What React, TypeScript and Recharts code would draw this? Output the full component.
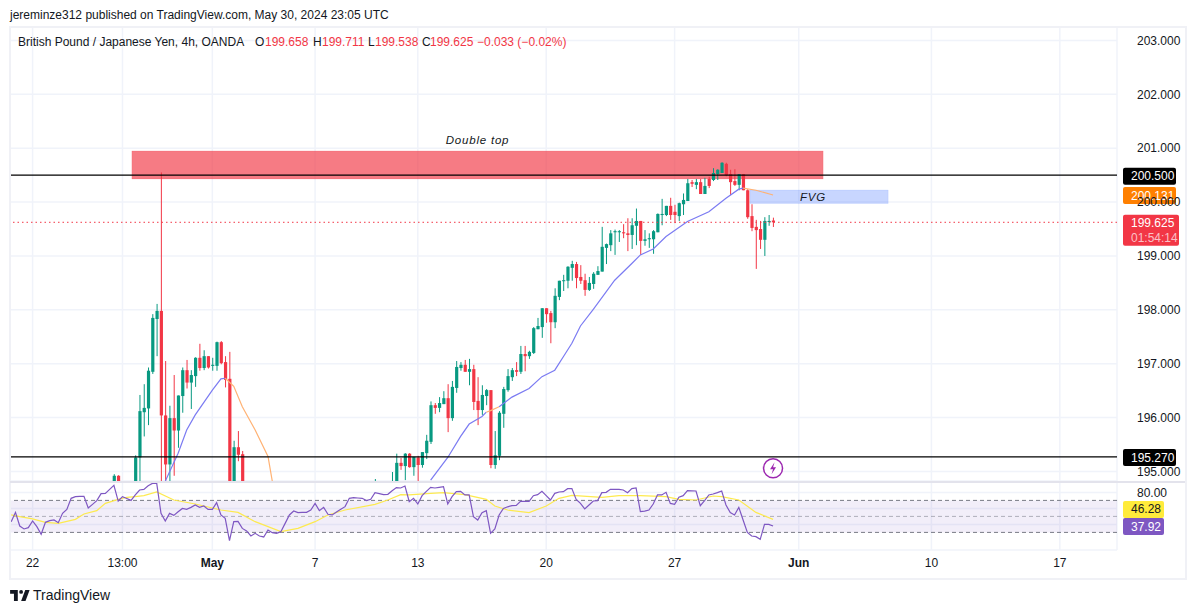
import React from "react";
import {
  ComposedChart, Bar, Line, XAxis, YAxis, CartesianGrid, ReferenceLine, ReferenceArea, ReferenceDot,
} from "recharts";

const FONT = "'Liberation Sans', Arial, sans-serif";
const GREEN = "#089981";
const RED = "#f23645";
const GRID = "#f0f3fa";

const timeTicks = [5, 26, 47, 71, 95, 125, 155, 184, 215, 245];
const timeLabels = ["22", "13:00", "May", "7", "13", "20", "27", "Jun", "10", "17"];
const boldLabels = ["May", "Jun"];
const priceTicks = [195, 196, 197, 198, 199, 200, 201, 202, 203];
const rsiTicks = [40, 60, 80];

const candleIndex = [
  24, 25,
  29, 30, 31, 32, 33, 34, 35, 36, 37, 38, 39, 40, 41, 42, 43, 44, 45, 46, 47, 48, 49, 50, 51, 52, 53, 54,
  85,
  89, 90, 91, 92, 93, 94, 95, 96, 97, 98, 99, 100,
  101, 102, 103, 104, 105, 106, 107, 108, 109, 110,
  111, 112, 113, 114, 115, 116, 117, 118, 119, 120,
  121, 122, 123, 124, 125, 126, 127, 128, 129, 130,
  131, 132, 133, 134, 135, 136, 137, 138, 139, 140,
  141, 142, 143, 144, 145, 146, 147, 148, 149, 150,
  151, 152, 153, 154, 155, 156, 157, 158, 159, 160,
  161, 162, 163, 164, 165, 166, 167, 168, 169, 170,
  171, 172, 173, 174, 175, 176, 177, 178,
];
const opens = [
  194.6, 194.92,
  194.4, 195.26, 196.1, 196.17, 196.85, 197.83, 197.98, 196.04, 195.13, 195.99, 195.76, 196.4, 196.88, 196.65, 196.77, 197.11, 196.92, 197.14, 196.96, 196.96, 197.4, 197.03, 196.72, 194.6, 195.45, 195.32,
  194.7,
  194.7, 194.6, 195.16, 195.1, 195.33, 195.08, 195.26, 195.12, 195.34, 195.55, 196.23, 196.18,
  196.25, 196.36, 195.99, 196.55, 196.92, 196.98, 196.85, 196.9, 196.31, 196.14,
  196.4, 196.51, 195.12, 195.29, 196.07, 196.51, 196.75, 196.88, 196.85, 197.18,
  197.14, 197.2, 197.64, 197.68, 198.03, 197.94, 197.77, 198.24, 198.54, 198.54,
  198.78, 198.85, 198.61, 198.55, 198.37, 198.48, 198.65, 198.71, 199.15, 199.2,
  199.44, 199.44, 199.44, 199.42, 199.39, 199.56, 199.65, 199.28, 199.31, 199.31,
  199.44, 199.76, 199.76, 199.93, 199.82, 199.74, 199.96, 200.02, 200.37, 200.32,
  200.37, 200.15, 200.43, 200.41, 200.52, 200.54, 200.71, 200.52, 200.39, 200.32,
  200.52, 200.22, 199.74, 199.54, 199.5, 199.3, 199.63, 199.658,
];
const highs = [
  194.95, 194.93,
  195.3, 196.42, 196.62, 196.93, 197.92, 198.11, 200.55, 197.05, 196.22, 196.79, 196.41, 196.93, 197.07, 196.88, 197.12, 197.37, 197.25, 197.14, 197.11, 197.41, 197.42, 197.14, 197.22, 195.57, 195.75, 195.38,
  194.86,
  194.99, 195.33, 195.25, 195.34, 195.34, 195.27, 195.29, 195.36, 195.68, 196.3, 196.27, 196.38,
  196.49, 196.62, 196.68, 197.05, 197.03, 197.07, 197.09, 196.98, 196.75, 196.6,
  196.53, 196.51, 195.75, 196.12, 196.57, 196.9, 196.92, 197.03, 197.33, 197.33,
  197.24, 197.68, 197.85, 198.03, 198.03, 197.98, 198.4, 198.54, 198.65, 198.81,
  198.91, 198.89, 198.83, 198.67, 198.61, 198.7, 198.81, 199.54, 199.23, 199.48,
  199.49, 199.48, 199.59, 199.7, 199.7, 199.88, 199.65, 199.48, 199.42, 199.48,
  199.79, 200.06, 199.93, 200.08, 199.95, 199.99, 200.16, 200.43, 200.41, 200.43,
  200.43, 200.45, 200.47, 200.63, 200.61, 200.74, 200.73, 200.6, 200.61, 200.52,
  200.52, 200.24, 199.96, 199.67, 199.65, 199.72, 199.76, 199.711,
];
const lows = [
  194.5, 194.5,
  194.3, 194.7, 195.65, 195.86, 196.81, 197.14, 194.7, 194.6, 194.7, 194.92, 195.44, 196.09, 196.54, 196.16, 196.57, 196.87, 196.88, 196.91, 196.87, 196.87, 196.99, 196.56, 194.5, 194.5, 195.19, 194.5,
  194.6,
  194.6, 194.5, 195.03, 194.84, 195.07, 194.92, 194.8, 195.07, 195.23, 195.51, 196.07, 196.1,
  196.25, 195.73, 195.94, 196.46, 196.87, 196.85, 196.6, 196.14, 195.86, 196.05,
  196.23, 195.06, 195.05, 195.21, 195.81, 196.48, 196.68, 196.77, 196.81, 196.86,
  197.09, 197.18, 197.64, 197.48, 197.76, 197.38, 197.66, 198.18, 198.35, 198.4,
  198.54, 198.4, 198.48, 198.26, 198.35, 198.39, 198.65, 198.71, 198.85, 199.09,
  199.02, 199.26, 199.33, 199.09, 199.13, 199.2, 199.02, 199.19, 199.15, 199.04,
  199.44, 199.57, 199.74, 199.67, 199.61, 199.65, 199.76, 200.02, 200.28, 200.24,
  200.15, 200.15, 200.26, 200.39, 200.41, 200.54, 200.48, 200.13, 200.3, 200.22,
  200.22, 199.69, 199.46, 198.76, 199.13, 199.0, 199.56, 199.538,
];
const closes = [
  194.92, 194.6,
  195.26, 196.12, 196.18, 196.87, 197.85, 197.98, 196.04, 195.13, 195.99, 195.76, 196.41, 196.88, 196.65, 196.79, 197.11, 196.92, 197.14, 196.93, 196.98, 197.4, 197.01, 196.7, 194.7, 195.45, 195.31, 194.6,
  194.8,
  194.8, 195.16, 195.1, 195.33, 195.08, 195.27, 195.12, 195.36, 195.57, 196.23, 196.18, 196.27,
  196.36, 195.99, 196.57, 196.94, 196.98, 196.85, 196.9, 196.29, 196.14, 196.42,
  196.51, 195.12, 195.3, 196.09, 196.53, 196.77, 196.88, 196.85, 197.18, 197.14,
  197.22, 197.66, 197.7, 198.03, 197.92, 197.77, 198.26, 198.54, 198.55, 198.8,
  198.85, 198.59, 198.54, 198.37, 198.5, 198.67, 198.72, 199.17, 199.22, 199.42,
  199.46, 199.46, 199.42, 199.39, 199.57, 199.65, 199.28, 199.31, 199.33, 199.46,
  199.78, 199.78, 199.93, 199.76, 199.76, 199.98, 200.04, 200.35, 200.34, 200.37,
  200.15, 200.3, 200.3, 200.54, 200.6, 200.73, 200.5, 200.37, 200.32, 200.52,
  200.22, 199.72, 199.52, 199.48, 199.3, 199.65, 199.65, 199.625,
];

const maRiseFirst = [[36, 194.82], [39, 195.34], [41, 195.77], [43, 196.05], [47, 196.51], [49, 196.72], [50, 196.73]];
const maFallFirst = [[50, 196.73], [52, 196.58], [54, 196.2], [57, 195.77], [60, 195.28], [61, 194.82]];
const maRiseSecond = [[98, 194.84], [102, 195.26], [105, 195.65], [107, 195.88], [110, 196.02], [111, 196.1]];
const maFallSecond = [[111, 196.1], [112, 196.13], [114, 196.2]];
const maRiseThird = [
  [114, 196.2], [117, 196.38], [121, 196.54], [124, 196.76], [127, 196.88], [129, 197.13], [131, 197.38],
  [133, 197.7], [136, 198.01], [141, 198.55], [145, 198.86], [147, 199.02], [150, 199.13], [153, 199.36],
  [158, 199.64], [163, 199.82], [167, 200.07], [170, 200.24], [171, 200.26],
];
const maFallThird = [[171, 200.26], [174, 200.22], [178, 200.131]];

const rsiValues = [
  43.4, 55.1, 38, 34.3, 35.9, 44.3, 37.2, 27.6, 42.6, 44.7,
  45.5, 42.2, 53.8, 58.8, 72.6, 74.7, 75, 75, 60.5, 65,
  69.7, 78.4, 78.8, 83.8, 88.8, 69.2, 74.7, 72.4, 70, 76.8,
  83, 83.8, 88.4, 91.3, 91.3, 53.8, 44.3, 53.8, 51.3, 55.9,
  60, 58.8, 61.3, 64.3, 61.3, 63, 58.8, 58.8, 67.2, 51.8,
  47.6, 19.7, 43.4, 43.8, 35, 31.8, 25.5, 28.8, 25.5, 24.3,
  33, 29.7, 28.8, 30.9, 41.3, 51.8, 56.8, 54.7, 55.1, 55.1,
  58, 66.3, 57.2, 61.3, 52.6, 51.8, 55.5, 58.9, 62.2, 72.6,
  73.4, 73, 72.6, 69.7, 71.3, 79.7, 78.5, 77.2, 77.6, 82,
  86, 85.5, 88, 68.4, 72.6, 65.5, 75.9, 81.3, 86.3, 85.5,
  86.3, 87.2, 65.5, 74.7, 80.9, 81.3, 76.8, 76.8, 49.7, 45.5,
  54.7, 57.2, 28.8, 34.3, 51.8, 60, 62, 63.4, 63.8, 68.8,
  68.8, 68.8, 75.9, 77.2, 81.3, 75.9, 70.5, 78.8, 80.5, 80.9,
  84.7, 84.7, 71.3, 66.3, 59.3, 64.3, 69.3, 69.7, 79.7, 80.1,
  83.8, 83.8, 83.8, 83, 79.7, 84.7, 85.5, 55.9, 56.5, 58,
  65.5, 76.8, 76.8, 80.1, 66.3, 65.1, 73.9, 75.9, 82.2, 82,
  81.8, 63.4, 69.7, 76.8, 78, 79.7, 81.8, 64.3, 54.7, 51.8,
  61.3, 45.5, 30, 25.5, 24.7, 21.3, 40, 40, 37.92,
];
const rsiAverage = [
  [0, 51.8], [2, 49.7], [5, 46.8], [8, 42.6], [11, 41.3], [15, 46.3], [17, 53], [20, 57.2], [22, 66.3],
  [25, 71.3], [27, 73.9], [29, 74.7], [31, 75.9], [34, 80.5], [38, 70.5], [43, 65.5], [49, 58], [53, 55],
  [57, 43.4], [63, 30.9], [67, 35], [71, 43.4], [74, 51.8], [78, 58], [85, 65.1], [88, 70.5], [91, 77.2],
  [93, 76.8], [98, 78.8], [101, 79.7], [106, 77.2], [111, 71.3], [113, 63], [116, 58], [121, 54.7], [125, 63],
  [128, 72.6], [131, 76.3], [138, 73.8], [142, 75.9], [147, 75.9], [153, 74.7], [156, 71.3], [160, 70.5],
  [164, 75.5], [166, 74.7], [170, 70.5], [174, 55], [178, 46.28],
];

const maSegments = [
  { key: "maRiseFirst", points: maRiseFirst, color: "#7b7bf2" },
  { key: "maFallFirst", points: maFallFirst, color: "#ffb274" },
  { key: "maRiseSecond", points: maRiseSecond, color: "#7b7bf2" },
  { key: "maFallSecond", points: maFallSecond, color: "#ffb274" },
  { key: "maRiseThird", points: maRiseThird, color: "#7b7bf2" },
  { key: "maFallThird", points: maFallThird, color: "#ffb274" },
];

const priceRows = Array.from({ length: 179 }, (_, i) => {
  const row: any = { i };
  const c = candleIndex.indexOf(i);
  if (c >= 0) {
    row.o = opens[c]; row.h = highs[c]; row.l = lows[c]; row.c = closes[c];
  }
  maSegments.forEach((s) => {
    const p = s.points.find((q) => q[0] === i);
    if (p) row[s.key] = p[1];
  });
  return row;
});

const rsiRows = rsiValues.map((v, i) => {
  const p = rsiAverage.find((q) => q[0] === i);
  return { i, rsi: v, avg: p ? p[1] : null };
});

const X_DOMAIN: [number, number] = [-0.28, 258.36];
const PRICE_DOMAIN: [number, number] = [194.823, 203.25];
const PRICE_PX = 454 / (PRICE_DOMAIN[1] - PRICE_DOMAIN[0]);

function Candle(props: any) {
  const { x, y, width, payload } = props;
  if (!payload || payload.o == null || !isFinite(y)) return null;
  const up = payload.c >= payload.o;
  const color = up ? GREEN : RED;
  const cx = x + width / 2;
  const top = y + (payload.h - Math.max(payload.o, payload.c)) * PRICE_PX;
  const bodyH = Math.max(1, Math.abs(payload.o - payload.c) * PRICE_PX);
  const bottom = y + (payload.h - payload.l) * PRICE_PX;
  return (
    <g>
      <line x1={cx} x2={cx} y1={y} y2={bottom} stroke={color} strokeWidth={1} />
      <rect x={cx - 1.6} y={top} width={3.2} height={bodyH} fill={color} />
    </g>
  );
}

function badge(fill: string, lines: string[], colors: string[], w: number, dy: number, h = 17) {
  return (props: any) => {
    const vb = props.viewBox || {};
    const x = vb.x + vb.width + 6;
    const y = vb.y + dy;
    return (
      <g>
        <rect x={x} y={y} width={w} height={h} rx={2} fill={fill} />
        {lines.map((t, n) => (
          <text key={t} x={x + (w === 53 ? 8 : 8)} y={y + 12.6 + n * 14.5} fontSize={12} fontFamily={FONT} fill={colors[n]}>
            {t}
          </text>
        ))}
      </g>
    );
  };
}

function TimeTick(props: any) {
  const { x, y, payload } = props;
  const label = timeLabels[timeTicks.indexOf(payload.value)];
  return (
    <text x={x} y={y + 9} textAnchor="middle" fontSize={12} fontFamily={FONT} fontWeight={boldLabels.includes(label) ? 700 : 400} fill="#131722">
      {label}
    </text>
  );
}

function Bolt(props: any) {
  const { cx, cy } = props;
  return (
    <g>
      <circle cx={cx} cy={cy} r={9.5} fill="#fff" stroke="#9c27b0" strokeWidth={1.5} />
      <path d={`M${cx + 1.5} ${cy - 6}L${cx - 3} ${cy + 1}H${cx}L${cx - 1.5} ${cy + 6}L${cx + 3} ${cy - 1}H${cx}Z`} fill="#9c27b0" />
    </g>
  );
}

function LegendText() {
  const base: React.CSSProperties = { position: "absolute", top: 35, fontSize: 12, lineHeight: "14px", fontFamily: FONT, whiteSpace: "nowrap" };
  const items: [number, string, string][] = [
    [18, "British Pound / Japanese Yen, 4h, OANDA", "#131722"],
    [255, "O", "#131722"], [265, "199.658", RED],
    [313, "H", "#131722"], [322, "199.711", RED],
    [368, "L", "#131722"], [375, "199.538", RED],
    [422, "C", "#131722"], [430, "199.625", RED],
    [477, "\u22120.033 (\u22120.02%)", RED],
  ];
  return (
    <>
      {items.map(([left, t, color]) => (
        <div key={t} style={{ ...base, left, color }}>{t}</div>
      ))}
    </>
  );
}

export default function App() {
  return (
    <div style={{ position: "fixed", left: 0, top: 0, width: 1195, height: 613, background: "#fff", overflow: "hidden" }}>
      <div style={{ position: "absolute", left: 10, top: 8, fontSize: 12, lineHeight: "14px", fontFamily: FONT, color: "#131722", whiteSpace: "nowrap" }}>
        jereminze312 published on TradingView.com, May 30, 2024 23:05 UTC
      </div>

      <div style={{ position: "absolute", left: 0, top: 0 }}>
        <ComposedChart width={1195} height={481} data={priceRows} margin={{ left: 10, right: 10, top: 27, bottom: 0 }}>
          <CartesianGrid stroke={GRID} strokeWidth={1.5} />
          <XAxis dataKey="i" type="number" domain={X_DOMAIN} ticks={timeTicks} allowDataOverflow hide />
          <YAxis
            orientation="right" width={68} type="number" domain={PRICE_DOMAIN} ticks={priceTicks} allowDataOverflow
            tickLine={false} axisLine={false} tickMargin={14} interval={0}
            tick={{ fontSize: 12, fontFamily: FONT, fill: "#131722" }}
            tickFormatter={(v: number) => v.toFixed(3)}
          />
          <Bar
            dataKey={(r: any) => (r.o == null ? [194, 194] : [r.l, r.h])}
            barSize={3} shape={<Candle />} isAnimationActive={false}
          />
          {maSegments.map((s) => (
            <Line key={s.key} dataKey={s.key} stroke={s.color} strokeWidth={1.2} dot={false} activeDot={false} connectNulls isAnimationActive={false} />
          ))}
          <ReferenceArea
            x1={28.2} x2={189.7} y1={200.43} y2={200.95} fill={RED} fillOpacity={0.66} stroke={RED} strokeOpacity={0.15}
            label={(p: any) => (
              <text x={p.viewBox.x + p.viewBox.width / 2} y={p.viewBox.y - 7} textAnchor="middle" fontSize={11.5} fontStyle="italic" fontFamily={FONT} letterSpacing={0.8} fill="#131722">
                Double top
              </text>
            )}
          />
          <ReferenceArea
            x1={172.6} x2={204.9} y1={199.974} y2={200.225} fill="#2962ff" fillOpacity={0.26} stroke="#2962ff" strokeOpacity={0.08}
            label={(p: any) => (
              <text x={p.viewBox.x + p.viewBox.width / 2 - 6} y={p.viewBox.y + 11} textAnchor="middle" fontSize={11.5} fontStyle="italic" fontFamily={FONT} letterSpacing={0.8} fill="#131722">
                FVG
              </text>
            )}
          />
          <ReferenceDot x={178} y={195.06} r={10} shape={<Bolt />} />
          <ReferenceLine y={200.5} stroke="#000" strokeWidth={1.2} label={badge("#000", ["200.500"], ["#fff"], 53, -7.5)} />
          <ReferenceLine y={200.131} stroke="none" label={badge("#ff8000", ["200.131"], ["#fff"], 53, -8)} />
          <ReferenceLine y={199.625} stroke={RED} strokeDasharray="1.5 3" label={badge(RED, ["199.625", "01:54:14"], ["#fff", "#fbc0c6"], 56, -7.5, 31)} />
          <ReferenceLine y={195.27} stroke="#000" strokeWidth={1.2} label={badge("#000", ["195.270"], ["#fff"], 53, -8)} />
        </ComposedChart>
      </div>

      <div style={{ position: "absolute", left: 0, top: 482 }}>
        <ComposedChart width={1195} height={95} data={rsiRows} margin={{ left: 10, right: 10, top: 0, bottom: 0 }}>
          <CartesianGrid stroke={GRID} strokeWidth={1.5} />
          <XAxis
            dataKey="i" type="number" domain={X_DOMAIN} ticks={timeTicks} allowDataOverflow interval={0}
            height={27} tickLine={false} axisLine={false} tick={<TimeTick />}
          />
          <YAxis
            orientation="right" width={68} type="number" domain={[8, 93]} ticks={rsiTicks} allowDataOverflow
            tickLine={false} axisLine={false} tickMargin={14} interval={0}
            tick={{ fontSize: 12, fontFamily: FONT, fill: "#131722" }}
            tickFormatter={(v: number) => (v === 80 ? "80.00" : "")}
          />
          <ReferenceArea y1={30} y2={70} fill="#7e57c2" fillOpacity={0.1} stroke="none" />
          <ReferenceLine y={70} stroke="#787b86" strokeDasharray="4 3" />
          <ReferenceLine y={50} stroke="#787b86" strokeOpacity={0.55} strokeDasharray="4 3" />
          <ReferenceLine y={30} stroke="#787b86" strokeDasharray="4 3" />
          <Line dataKey="avg" stroke="#fdea4f" strokeWidth={1.2} dot={false} activeDot={false} connectNulls isAnimationActive={false} />
          <Line dataKey="rsi" stroke="#7e57c2" strokeWidth={1.2} dot={false} activeDot={false} isAnimationActive={false} />
          <ReferenceLine y={46.28} stroke="none" label={badge("#ffeb3b", ["46.28"], ["#131722"], 41, -18.5)} />
          <ReferenceLine y={37.92} stroke="none" label={badge("#7e57c2", ["37.92"], ["#fff"], 41, -8)} />
        </ComposedChart>
      </div>

      <LegendText />

      <div style={{ position: "absolute", left: 9, top: 26, width: 1174, height: 550, border: "2px solid #f0f1f6", pointerEvents: "none" }} />
      <div style={{ position: "absolute", left: 10, top: 480.5, width: 1175, height: 2, background: "#e3e3ec" }} />

      <svg style={{ position: "absolute", left: 10, top: 590 }} width={20} height={11} viewBox="0 0 36 20">
        <path d="M14 0H0v7h7v13h7V0Z" fill="#131722" />
        <circle cx="20" cy="3.5" r="3.5" fill="#131722" />
        <path d="M28 20h-8l7.5-20h8L28 20Z" fill="#131722" />
      </svg>
      <div style={{ position: "absolute", left: 33, top: 587, fontSize: 14, lineHeight: "17px", fontFamily: FONT, color: "#131722" }}>TradingView</div>
    </div>
  );
}
